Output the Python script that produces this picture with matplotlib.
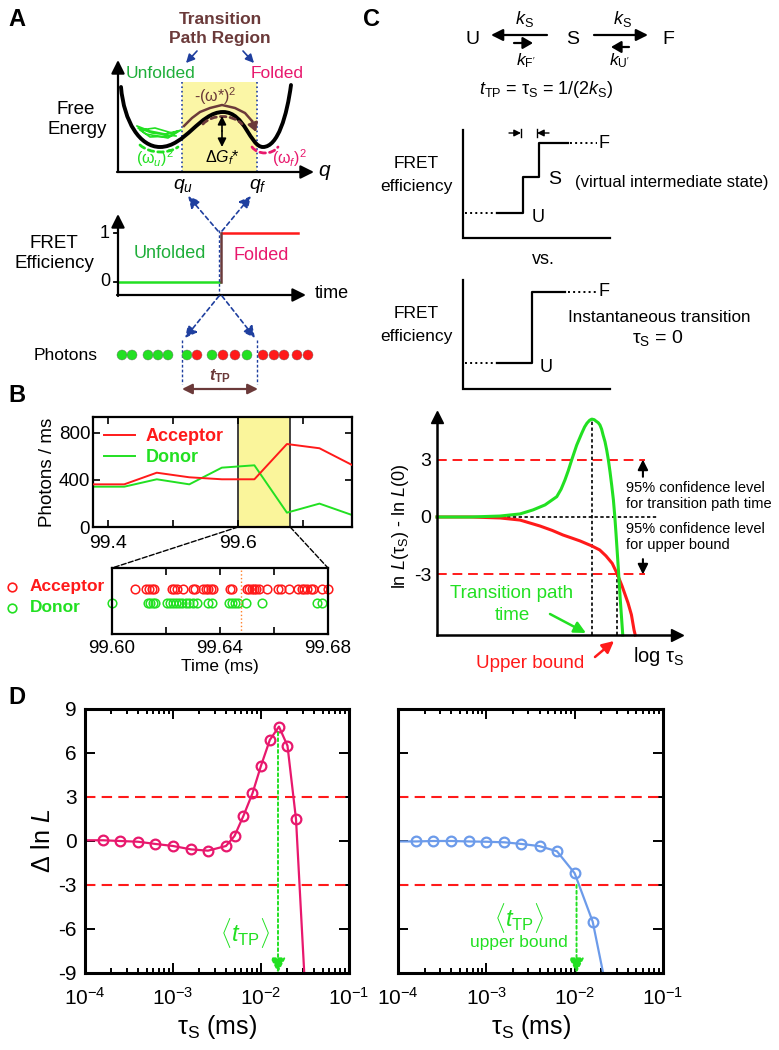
# -*- coding: utf-8 -*-
"""
Figura: tiempo de camino de transicion (paneles A-D).
"""

import matplotlib
matplotlib.use('Agg')
import matplotlib.pyplot as plt
from matplotlib.patches import Rectangle, PathPatch, ConnectionPatch
from matplotlib.path import Path
from matplotlib.ticker import FixedLocator, LogLocator, NullFormatter

plt.rcParams['font.family'] = ['Liberation Sans', 'DejaVu Sans']
plt.rcParams['mathtext.fontset'] = 'custom'
plt.rcParams['mathtext.rm'] = 'Liberation Sans'
plt.rcParams['mathtext.it'] = 'Liberation Sans:italic'
plt.rcParams['mathtext.bf'] = 'Liberation Sans:bold'
plt.rcParams['mathtext.bfit'] = 'Liberation Sans:italic:bold'
plt.rcParams['axes.unicode_minus'] = False

W, H = 779, 1050

GREEN = '#22e022'
DKGREEN = '#1fae3a'
RED = '#ff1a1a'
MAGENTA = '#e8186d'
BROWN = '#6b3a3a'
NAVY = '#1f3f9f'
YELLOW = '#fbf6a6'
BLUE = '#6c9bea'

#%% Datos

# Panel B: tasa de fotones en bins de 0.05 ms
bin_t = [99.375, 99.425, 99.475, 99.525, 99.575, 99.625, 99.675, 99.725, 99.775]
acc_rate = [363, 363, 462, 423, 406, 406, 706, 670, 528]
don_rate = [343, 343, 406, 363, 505, 525, 122, 199, 102]
tp_window = [99.60, 99.68]
switch_t = 99.6478

acc_photons = [99.6085, 99.6125, 99.6137, 99.6147, 99.6156, 99.6221, 99.6230,
               99.6240, 99.6264, 99.6299, 99.6307, 99.6336, 99.6347, 99.6357,
               99.6365, 99.6375, 99.6437, 99.6446, 99.6499, 99.6507, 99.6517,
               99.6526, 99.6533, 99.6543, 99.6573, 99.6614, 99.6626, 99.6657,
               99.6690, 99.6702, 99.6712, 99.6721, 99.6736, 99.6746, 99.6777,
               99.6801]
don_photons = [99.6000, 99.6132, 99.6141, 99.6151, 99.6159, 99.6202, 99.6215,
               99.6227, 99.6237, 99.6248, 99.6260, 99.6273, 99.6285, 99.6301,
               99.6316, 99.6357, 99.6369, 99.6435, 99.6446, 99.6456, 99.6468,
               99.6496, 99.6554, 99.6758, 99.6777]

# Panel D: Delta ln L vs tau_S
tau_tp = [1.6e-4, 2.5e-4, 4.0e-4, 6.3e-4, 1.0e-3, 1.6e-3, 2.5e-3, 4.0e-3,
          5.0e-3, 6.3e-3, 8.0e-3, 1.0e-2, 1.26e-2, 1.6e-2, 2.0e-2, 2.5e-2]
dlnL_tp = [0.05, 0.0, -0.05, -0.2, -0.34, -0.57, -0.66, -0.34,
           0.34, 1.7, 3.25, 5.13, 6.89, 7.8, 6.49, 1.48]
tau_tp_line = [1.0e-4] + tau_tp + [3.1e-2]
dlnL_tp_line = [0.05] + dlnL_tp + [-9.0]
tau_tp_max = 1.56e-2

tau_ub = [1.6e-4, 2.5e-4, 4.0e-4, 6.3e-4, 1.0e-3, 1.6e-3, 2.5e-3, 4.0e-3,
          6.3e-3, 1.0e-2, 1.6e-2]
dlnL_ub = [-0.03, 0.0, 0.0, -0.03, -0.05, -0.09, -0.2, -0.35, -0.7, -2.2, -5.5]
tau_ub_line = [1.0e-4] + tau_ub + [2.1e-2]
dlnL_ub_line = [-0.03] + dlnL_ub + [-9.0]
tau_ub_cross = 1.05e-2

# Panel C (esquema): curvas de ln L en unidades arbitrarias de log tau
sch_x_tp = [0, 1.38, 2.63, 3.46, 4.0, 4.5, 4.99, 5.17, 5.33, 5.47, 5.61, 5.82,
            6.03, 6.15, 6.25, 6.36, 6.45, 6.55, 6.63, 6.72, 6.79, 6.86, 6.92,
            7.0, 7.07, 7.14, 7.21, 7.28, 7.35, 7.41, 7.46, 7.55, 7.63, 7.74]
sch_y_tp = [0, 0, 0.05, 0.16, 0.37, 0.63, 1.06, 1.45, 1.93, 2.42, 2.97, 3.75,
            4.37, 4.7, 4.9, 5.05, 5.11, 5.08, 5.0, 4.92, 4.8, 4.58, 4.28,
            3.93, 3.5, 2.98, 2.35, 1.65, 0.89, 0.0, -0.89, -2.59, -4.2, -6.16]
sch_x_ub = [0, 1.38, 2.63, 3.46, 4.29, 4.8, 5.25, 5.62, 5.96, 6.45, 6.78, 7.04,
            7.3, 7.49, 7.71, 7.96, 8.1, 8.21, 8.26]
sch_y_ub = [0, 0, -0.05, -0.16, -0.47, -0.7, -0.94, -1.1, -1.25, -1.51, -1.72,
            -2.03, -2.42, -2.92, -3.6, -4.49, -5.1, -5.9, -6.16]

# Panel A (esquema): fotones
photon_x = [122, 132, 148, 158, 168, 187, 197, 212, 223, 235, 247, 263, 274, 284, 297, 308]
photon_c = ['g', 'g', 'g', 'g', 'g', 'g', 'r', 'g', 'r', 'r', 'g', 'r', 'r', 'r', 'r', 'r']

#%% Figura

fig = plt.figure(figsize=(W / 100, H / 100), dpi=100)


def px_axes(x0, y0, x1, y1):
    return fig.add_axes([x0 / W, 1 - y1 / H, (x1 - x0) / W, (y1 - y0) / H])


ov = px_axes(0, 0, W, H)
ov.set_xlim(0, W)
ov.set_ylim(H, 0)
ov.axis('off')
ov.set_zorder(5)


def arrow(x0, y0, x1, y1, color='k', lw=1.5, ls='-', hl=0.6, hw=0.3, both=False, z=6):
    style = '<|-|>' if both else '-|>'
    ov.annotate('', xy=(x1, y1), xytext=(x0, y0), zorder=z,
                arrowprops=dict(arrowstyle='%s,head_length=%s,head_width=%s' % (style, hl, hw),
                                color=color, lw=lw, linestyle=ls, shrinkA=0, shrinkB=0))


def bez(verts, color, lw, ls='-', z=4):
    codes = [Path.MOVETO] + [Path.CURVE4] * (len(verts) - 1)
    ov.add_patch(PathPatch(Path(verts, codes), fc='none', ec=color, lw=lw, ls=ls,
                           zorder=z, capstyle='round'))


def T(x, y, s, **kw):
    kw.setdefault('ha', 'center')
    kw.setdefault('va', 'center')
    ov.text(x, y, s, **kw)


# Letras de panel
for lab, (x, y) in {'A': (17, 19), 'B': (17, 395), 'C': (372, 19), 'D': (17, 698)}.items():
    T(x, y, lab, fontsize=17, fontweight='bold')

#%% Panel A: paisaje de energia libre
T(220, 20, 'Transition', color=BROWN, fontsize=12.5, fontweight='bold')
T(220, 38, 'Path Region', color=BROWN, fontsize=12.5, fontweight='bold')
arrow(197, 51, 186, 63, color=NAVY, lw=1.2, hl=0.5, hw=0.25)
arrow(243, 51, 254, 63, color=NAVY, lw=1.2, hl=0.5, hw=0.25)

ov.add_patch(Rectangle((182, 82), 75, 90, fc=YELLOW, ec='none', zorder=1))
for xq in (182, 257):
    ov.plot([xq, xq], [82, 172], ls=':', color=NAVY, lw=1.2, zorder=2)

arrow(118, 172, 118, 60, lw=1.6, hl=0.8, hw=0.4)
arrow(117, 172, 314, 172, lw=1.6, hl=0.8, hw=0.4)
T(325, 172, '$q$', fontsize=15)
T(183, 186, '$q_u$', fontsize=14)
T(258, 186, '$q_f$', fontsize=14)
T(161, 74, 'Unfolded', color=DKGREEN, fontsize=12.5)
T(277, 74, 'Folded', color=MAGENTA, fontsize=12.5)
T(76, 110, 'Free', fontsize=13.5)
T(77, 129, 'Energy', fontsize=13.5)

# trayectorias en el pozo desplegado
ov.plot([137, 150, 165, 178, 170, 150, 140, 155, 172, 181, 168, 146, 138, 152, 176],
        [126, 131, 134, 131, 136, 137, 130, 128, 133, 130, 138, 134, 128, 133, 136],
        color=GREEN, lw=1.2, zorder=3)
bez([(121, 87), (124, 122), (140, 147), (160, 147), (185, 147), (200, 112), (223, 112),
     (245, 112), (250, 147), (263, 147), (278, 147), (287, 115), (291, 85)], 'k', 2.8)
bez([(140, 145), (150, 154), (168, 154), (178, 147)], GREEN, 2.0, ls=(0, (2, 1.5)))
bez([(252, 147), (258, 155), (272, 155), (278, 147)], MAGENTA, 2.0, ls=(0, (2, 1.5)))
bez([(203, 124), (212, 114), (232, 114), (242, 124)], BROWN, 2.0, ls=(0, (2, 1.5)))
ov.plot([184, 192, 200, 210, 222, 235, 245, 252],
        [126, 118, 112, 108, 105, 108, 113, 121], color=BROWN, lw=1.8, zorder=5)
arrow(252, 121, 256, 132, color=BROWN, lw=1.8, hl=0.5, hw=0.3)
arrow(222, 131, 222, 116, lw=1.2, hl=0.5, hw=0.25)
arrow(222, 131, 222, 147, lw=1.2, hl=0.5, hw=0.25)
T(215, 96, '-(ω*)$^2$', color=BROWN, fontsize=11.5)
T(222, 158, 'Δ$G_f$*', fontsize=11.5)
T(155, 158, '(ω$_u$)$^2$', color=GREEN, fontsize=11.5)
T(289, 158, '(ω$_f$)$^2$', color=MAGENTA, fontsize=11.5)

# traza FRET
arrow(118, 296, 118, 214, lw=1.6, hl=0.8, hw=0.4)
arrow(117, 295, 306, 295, lw=1.6, hl=0.8, hw=0.4)
ov.plot([114, 118], [233, 233], 'k', lw=1.3)
ov.plot([114, 118], [282, 282], 'k', lw=1.3)
T(105, 233, '1', fontsize=13)
T(105, 282, '0', fontsize=13)
T(332, 294, 'time', fontsize=13)
T(54, 243, 'FRET', fontsize=13.5)
T(54, 263, 'Efficiency', fontsize=13.5)
ov.plot([119, 220], [282, 282], color=GREEN, lw=1.8, zorder=3)
ov.plot([222, 298], [233, 233], color=RED, lw=1.8, zorder=3)
ov.plot([221, 221], [233, 282], color=BROWN, lw=1.8, zorder=3)
ov.plot([219, 219], [230, 297], color=NAVY, lw=1.0, ls=(0, (2, 1.5)), zorder=4)
T(170, 254, 'Unfolded', color=DKGREEN, fontsize=13)
T(261, 255, 'Folded', color=MAGENTA, fontsize=13)
arrow(218, 231, 188, 196, color=NAVY, lw=1.2, ls=(0, (2.5, 2)), hl=0.7, hw=0.35)
arrow(222, 231, 251, 196, color=NAVY, lw=1.2, ls=(0, (2.5, 2)), hl=0.7, hw=0.35)
arrow(219, 296, 185, 338, color=NAVY, lw=1.2, ls=(0, (2.5, 2)), hl=0.7, hw=0.35)
arrow(222, 296, 255, 338, color=NAVY, lw=1.2, ls=(0, (2.5, 2)), hl=0.7, hw=0.35)

# fotones
T(66, 355, 'Photons', fontsize=12.5)
ov.scatter(photon_x, [355] * len(photon_x), s=52,
           c=[GREEN if c == 'g' else RED for c in photon_c],
           edgecolors='#707070', linewidths=0.3, zorder=4)
for xq in (182, 257):
    ov.plot([xq, xq], [340, 384], ls=(0, (2, 1.5)), color=NAVY, lw=1.0, zorder=3)
arrow(220, 389, 182, 389, color=BROWN, lw=1.6, hl=0.6, hw=0.3)
arrow(220, 389, 258, 389, color=BROWN, lw=1.6, hl=0.6, hw=0.3)
T(220, 376, r'$\mathbfit{t}_\mathbf{TP}$', color=BROWN, fontsize=12)

#%% Panel B
ax_b = px_axes(93, 417, 352, 527)
ax_b.axvspan(tp_window[0], tp_window[1], fc='#faf59b', ec='none', zorder=0)
for xt in tp_window:
    ax_b.axvline(xt, color='#333333', lw=1.3, zorder=1)
ax_b.plot(bin_t, acc_rate, color=RED, lw=1.4, label='Acceptor', zorder=3)
ax_b.plot(bin_t, don_rate, color=GREEN, lw=1.4, label='Donor', zorder=2)
ax_b.set_xlim(99.377, 99.775)
ax_b.set_ylim(0, 936)
ax_b.set_yticks([0, 400, 800])
ax_b.set_xticks([99.4, 99.6])
ax_b.xaxis.set_minor_locator(FixedLocator([99.5, 99.7]))
ax_b.tick_params(which='both', direction='in', top=True, right=True, width=1.2, length=5)
ax_b.tick_params(axis='x', labelsize=14, pad=6)
ax_b.tick_params(axis='y', labelsize=13.5, pad=2)
ax_b.set_ylabel('Photons / ms', fontsize=13.5, labelpad=2)
for sp in ax_b.spines.values():
    sp.set_linewidth(1.6)
leg = ax_b.legend(loc='upper left', frameon=False, prop={'weight': 'bold', 'size': 13},
                  handlelength=1.7, borderaxespad=0.2, labelspacing=0.25, handletextpad=0.6)
for txt, col in zip(leg.get_texts(), (RED, GREEN)):
    txt.set_color(col)

ax_p = px_axes(112, 568, 328, 634)
ax_p.plot(acc_photons, [1] * len(acc_photons), 'o', mfc='none', mec=RED, ms=6.2, mew=1.1, clip_on=False)
ax_p.plot(don_photons, [0] * len(don_photons), 'o', mfc='none', mec=GREEN, ms=6.2, mew=1.1, clip_on=False)
ax_p.axvline(switch_t, color='#ff7f27', lw=1.0, ls=':')
ax_p.set_xlim(99.60, 99.68)
ax_p.set_ylim(-2.21, 2.5)
ax_p.set_yticks([])
ax_p.set_xticks([99.60, 99.64, 99.68])
ax_p.set_xticklabels(['99.60', '99.64', '99.68'])
ax_p.xaxis.set_minor_locator(FixedLocator([99.62, 99.66]))
ax_p.tick_params(which='both', direction='in', top=True, labelsize=13.5, length=5, width=1.2, pad=4)
ax_p.set_xlabel('Time (ms)', fontsize=12.5, labelpad=2)
for sp in ax_p.spines.values():
    sp.set_linewidth(1.6)
for xa, xb in ((tp_window[0], 0), (tp_window[1], 1)):
    fig.add_artist(ConnectionPatch(xyA=(xa, 0), coordsA=ax_b.transData, xyB=(xb, 1),
                                   coordsB=ax_p.transAxes, ls='--', color='k', lw=1.0))
ov.plot([12], [587], 'o', mfc='none', mec=RED, ms=6.2, mew=1.2)
ov.plot([12], [608], 'o', mfc='none', mec=GREEN, ms=6.2, mew=1.2)
T(30, 587, 'Acceptor', ha='left', color=RED, fontsize=12.5, fontweight='bold')
T(30, 608, 'Donor', ha='left', color=GREEN, fontsize=12.5, fontweight='bold')

#%% Panel C: esquema cinetico
T(473, 40, 'U', fontsize=14)
T(573, 40, 'S', fontsize=14)
T(668, 40, 'F', fontsize=14)
arrow(547, 35, 491, 35, lw=1.6, hl=0.7, hw=0.35)
arrow(514, 43, 533, 43, lw=1.6, hl=0.6, hw=0.35)
arrow(594, 35, 648, 35, lw=1.6, hl=0.7, hw=0.35)
arrow(629, 47, 611, 47, lw=1.6, hl=0.6, hw=0.35)
T(524, 19, '$k_\\mathrm{S}$', fontsize=13)
T(526, 61, "$k_{\\mathrm{F'}}$", fontsize=12.5)
T(622, 19, '$k_\\mathrm{S}$', fontsize=13)
T(620, 61, "$k_{\\mathrm{U'}}$", fontsize=12.5)
T(546, 90, '$t_\\mathrm{TP}$ = τ$_\\mathrm{S}$ = 1/(2$k_\\mathrm{S}$)', fontsize=13)

# trazas FRET esquematicas
for y0, y1 in ((130, 238), (280, 389)):
    ov.plot([463, 463, 610], [y0, y1, y1], 'k', lw=1.6, solid_joinstyle='miter')
ov.plot([465, 497], [213, 213], 'k:', lw=1.4)
ov.plot([497, 523, 523, 539, 539, 568], [213, 213, 177, 177, 143, 143], 'k', lw=1.6)
ov.plot([570, 597], [143, 143], 'k:', lw=1.4)
ov.plot([465, 497], [363, 363], 'k:', lw=1.4)
ov.plot([497, 532, 532, 565], [363, 363, 292, 292], 'k', lw=1.6)
ov.plot([568, 596], [292, 292], 'k:', lw=1.4)
arrow(509, 133, 521, 133, lw=1.0, hl=0.4, hw=0.2)
ov.plot([521, 521], [129, 137], 'k', lw=1.0)
arrow(549, 133, 537, 133, lw=1.0, hl=0.4, hw=0.2)
ov.plot([537, 537], [129, 137], 'k', lw=1.0)
T(604, 143, 'F', fontsize=13)
T(548, 180, 'S', ha='left', fontsize=14)
T(575, 182, '(virtual intermediate state)', ha='left', fontsize=12)
T(538, 217, 'U', fontsize=13)
T(416, 164, 'FRET', fontsize=12.5)
T(416, 187, 'efficiency', fontsize=12.5)
T(543, 260, 'vs.', fontsize=13)
T(604, 292, 'F', fontsize=13)
T(546, 367, 'U', fontsize=13)
T(416, 314, 'FRET', fontsize=12.5)
T(416, 337, 'efficiency', fontsize=12.5)
T(659, 317, 'Instantaneous transition', fontsize=12.3)
T(658, 338, 'τ$_\\mathrm{S}$ = 0', fontsize=14)

# curvas de verosimilitud esquematicas
ax_c = px_axes(437, 417, 677, 635)
ax_c.set_xlim(0, 10)
ax_c.set_ylim(-6.16, 5.22)
for s in ('top', 'right'):
    ax_c.spines[s].set_visible(False)
for s in ('left', 'bottom'):
    ax_c.spines[s].set_linewidth(1.8)
ax_c.plot(1, 0, '>k', ms=9, transform=ax_c.transAxes, clip_on=False)
ax_c.plot(0, 1, '^k', ms=9, transform=ax_c.transAxes, clip_on=False)
ax_c.set_xticks([])
ax_c.set_yticks([-3, 0, 3])
ax_c.set_yticklabels(['-3', '0', '3'])
ax_c.tick_params(axis='y', length=0, labelsize=14, pad=4)
ax_c.set_ylabel('ln $L$(τ$_\\mathrm{S}$) - ln $L$(0)', fontsize=13, labelpad=2)
ax_c.hlines([3, -3], 0, 8.67, colors=RED, linestyles=(0, (5, 3)), lw=1.4)
ax_c.hlines(0, 0, 9.2, colors='k', linestyles=(0, (2, 1.5)), lw=1.2)
ax_c.vlines(6.46, -6.16, 5.11, colors='k', linestyles=(0, (2, 1.5)), lw=1.2)
ax_c.vlines(7.5, -6.16, -3, colors='k', linestyles=(0, (2, 1.5)), lw=1.2)
ax_c.plot(sch_x_ub, sch_y_ub, color=RED, lw=2.2, clip_on=False)
ax_c.plot(sch_x_tp, sch_y_tp, color=GREEN, lw=2.2, clip_on=False)
ax_c.annotate('', xy=(8.58, 3), xytext=(8.58, 2.1),
              arrowprops=dict(arrowstyle='-|>,head_length=0.6,head_width=0.3', color='k', lw=1.5,
                              shrinkA=0, shrinkB=0))
ax_c.annotate('', xy=(8.58, -3), xytext=(8.58, -2.2),
              arrowprops=dict(arrowstyle='-|>,head_length=0.6,head_width=0.3', color='k', lw=1.5,
                              shrinkA=0, shrinkB=0))
T(626, 488, '95% confidence level', ha='left', fontsize=10.5)
T(626, 504, 'for transition path time', ha='left', fontsize=10.5)
T(626, 529, '95% confidence level', ha='left', fontsize=10.5)
T(626, 545, 'for upper bound', ha='left', fontsize=10.5)
T(512, 593, 'Transition path', color=GREEN, fontsize=13.5)
T(512, 615, 'time', color=GREEN, fontsize=13.5)
arrow(550, 614, 586, 633, color=GREEN, lw=1.8, hl=0.7, hw=0.35)
T(530, 663, 'Upper bound', color=RED, fontsize=13.5)
arrow(595, 657, 614, 641, color=RED, lw=1.8, hl=0.7, hw=0.35)
T(633, 656, 'log τ$_\\mathrm{S}$', ha='left', fontsize=14.5)

#%% Panel D


def style_d(ax, labels=True):
    ax.set_xscale('log')
    ax.set_xlim(1e-4, 1e-1)
    ax.set_ylim(-9, 9)
    ax.set_yticks([-9, -6, -3, 0, 3, 6, 9])
    ax.set_xticks([1e-4, 1e-3, 1e-2, 1e-1])
    ax.set_xticklabels(['$10^{-4}$', '$10^{-3}$', '$10^{-2}$', '$10^{-1}$'])
    ax.xaxis.set_minor_locator(LogLocator(base=10, subs=range(2, 10)))
    ax.xaxis.set_minor_formatter(NullFormatter())
    ax.tick_params(which='both', direction='in', top=True, right=True, width=1.4, labelsize=15)
    ax.tick_params(which='major', length=7, pad=6)
    ax.tick_params(which='minor', length=3.5)
    ax.tick_params(axis='x', which='major', pad=10)
    if not labels:
        ax.set_yticklabels([])
    for sp in ax.spines.values():
        sp.set_linewidth(2.2)
    ax.axhline(3, color=RED, lw=1.5, ls=(0, (5, 3)))
    ax.axhline(-3, color=RED, lw=1.5, ls=(0, (5, 3)))
    ax.set_xlabel('τ$_\\mathrm{S}$ (ms)', fontsize=18, labelpad=3)


ax_d1 = px_axes(85, 709, 349, 973)
style_d(ax_d1)
ax_d1.plot(tau_tp_line, dlnL_tp_line, color=MAGENTA, lw=1.6)
ax_d1.plot(tau_tp, dlnL_tp, 'o', mfc='none', mec=MAGENTA, ms=7, mew=1.6)
ax_d1.annotate('', xy=(tau_tp_max, -9), xytext=(tau_tp_max, 7.4),
               arrowprops=dict(arrowstyle='-|>,head_length=0.9,head_width=0.45', color=GREEN,
                               lw=1.4, ls=(0, (1.5, 1.5)), shrinkA=0, shrinkB=0))
ax_d1.set_ylabel('Δ ln $L$', fontsize=18, labelpad=2)
T(245, 933, r'$\langle t_\mathrm{TP}\rangle$', color=GREEN, fontsize=17)

ax_d2 = px_axes(398, 709, 663, 973)
style_d(ax_d2, labels=False)
ax_d2.plot(tau_ub_line, dlnL_ub_line, color=BLUE, lw=1.6)
ax_d2.plot(tau_ub, dlnL_ub, 'o', mfc='none', mec=BLUE, ms=7, mew=1.6)
ax_d2.annotate('', xy=(tau_ub_cross, -9), xytext=(tau_ub_cross, -3),
               arrowprops=dict(arrowstyle='-|>,head_length=0.9,head_width=0.45', color=GREEN,
                               lw=1.4, ls=(0, (1.5, 1.5)), shrinkA=0, shrinkB=0))
T(519, 918, r'$\langle t_\mathrm{TP}\rangle$', color=GREEN, fontsize=17)
T(519, 943, 'upper bound', color=GREEN, fontsize=12.5)

fig.savefig('out.png', dpi=100)
